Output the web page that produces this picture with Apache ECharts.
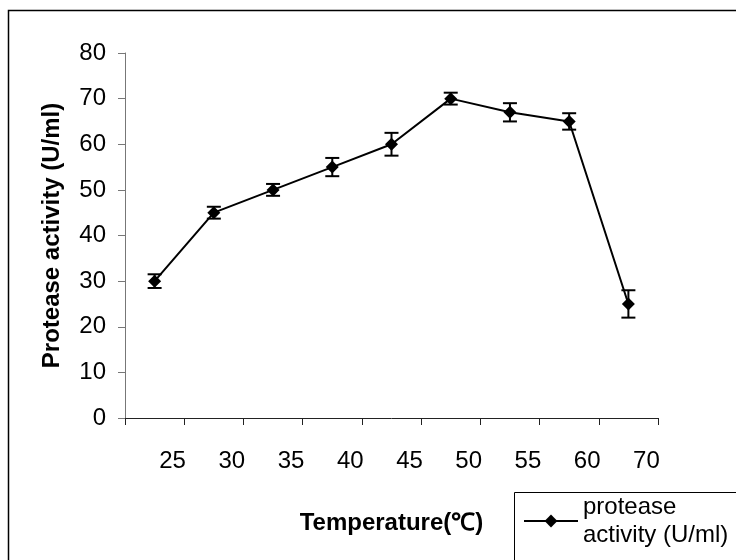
<!DOCTYPE html>
<html>
<head>
<meta charset="utf-8">
<script src="https://cdn.jsdelivr.net/npm/echarts@6/dist/echarts.min.js"></script>
<style>
  html, body { margin: 0; padding: 0; background: #fff; }
  #chart { width: 736px; height: 560px; }
</style>
</head>
<body>
<div id="chart"></div>
<script>
// 温度分类与酶活数据
var temps = ['25', '30', '35', '40', '45', '50', '55', '60', '70'];
var activity = [30, 45, 50, 55, 60, 70, 67, 65, 25];
var errors = [1.5, 1.3, 1.3, 2, 2.5, 1.3, 2, 1.8, 3];

var chart = echarts.init(document.getElementById('chart'));

var errData = temps.map(function (t, i) {
    return [t, activity[i] - errors[i], activity[i] + errors[i]];
});

var font = 'Liberation Sans, Arial, sans-serif';

var option = {
    backgroundColor: '#fff',
    animation: false,
    grid: { left: 125, right: 78, top: 53, bottom: 142 },
    graphic: [
        {
            // 外边框
            type: 'rect',
            shape: { x: 8.5, y: 10.5, width: 800, height: 600 },
            style: { fill: 'none', stroke: '#000', lineWidth: 1.5 },
            z: -1
        },
        {
            // 图例边框
            type: 'rect',
            shape: { x: 514.5, y: 492.5, width: 300, height: 120 },
            style: { fill: 'none', stroke: '#000', lineWidth: 1 },
            z: -1
        }
    ],
    legend: {
        left: 523,
        top: 493,
        orient: 'vertical',
        padding: 0,
        itemWidth: 54,
        itemHeight: 16,
        itemGap: 0,
        data: ['protease activity (U/ml)'],
        formatter: function () { return 'protease\nactivity (U/ml)'; },
        textStyle: { fontFamily: font, fontSize: 24, color: '#000', lineHeight: 28 }
    },
    xAxis: {
        type: 'category',
        data: temps,
        boundaryGap: true,
        name: 'Temperature(℃)',
        nameLocation: 'middle',
        nameGap: 93,
        nameTextStyle: { fontFamily: font, fontSize: 24, fontWeight: 'bold', color: '#000' },
        axisLine: { lineStyle: { color: '#222', width: 1 } },
        axisTick: { show: true, alignWithLabel: false, length: 7, lineStyle: { color: '#222' } },
        axisLabel: { margin: 31, fontFamily: font, fontSize: 24, color: '#000', padding: [0, 0, 0, 36], interval: 0 },
        splitLine: { show: false }
    },
    yAxis: {
        type: 'value',
        min: 0,
        max: 80,
        interval: 10,
        name: 'Protease activity (U/ml)',
        nameLocation: 'middle',
        nameGap: 61,
        nameTextStyle: { fontFamily: font, fontSize: 24, fontWeight: 'bold', color: '#000' },
        axisLine: { show: true, lineStyle: { color: '#777', width: 1 } },
        axisTick: { show: true, length: 7, lineStyle: { color: '#777' } },
        axisLabel: { margin: 19, fontFamily: font, fontSize: 24, color: '#000' },
        splitLine: { show: false }
    },
    series: [
        {
            name: 'protease activity (U/ml)',
            type: 'line',
            data: activity,
            symbol: 'diamond',
            symbolSize: 13,
            lineStyle: { color: '#000', width: 2 },
            itemStyle: { color: '#000' },
            z: 3
        },
        {
            // 误差线
            type: 'custom',
            data: errData,
            renderItem: function (params, api) {
                var x = api.value(0);
                var lo = api.coord([x, api.value(1)]);
                var hi = api.coord([x, api.value(2)]);
                var w = 7;
                var st = { stroke: '#000', lineWidth: 2 };
                return {
                    type: 'group',
                    children: [
                        { type: 'line', shape: { x1: hi[0], y1: hi[1], x2: lo[0], y2: lo[1] }, style: st },
                        { type: 'line', shape: { x1: hi[0] - w, y1: hi[1], x2: hi[0] + w, y2: hi[1] }, style: st },
                        { type: 'line', shape: { x1: lo[0] - w, y1: lo[1], x2: lo[0] + w, y2: lo[1] }, style: st }
                    ]
                };
            },
            z: 2
        }
    ]
};

chart.setOption(option);
window.addEventListener('resize', chart.resize);
</script>
</body>
</html>
